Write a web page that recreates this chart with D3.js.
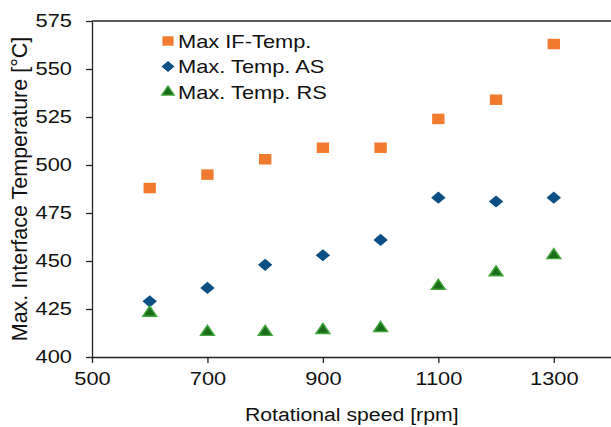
<!DOCTYPE html>
<html><head><meta charset="utf-8">
<script src="https://cdn.jsdelivr.net/npm/d3@7"></script>
<style>body{margin:0;background:#fff}svg{display:block}</style>
</head><body><svg id="c" width="611" height="427" font-family="Liberation Sans, Arial, sans-serif"></svg>
<script>
const speeds = [600, 700, 800, 900, 1000, 1100, 1200, 1300];
const ifTemp = [488, 495, 503, 509, 509, 524, 534, 563];
const asTemp = [429, 436, 448, 453, 461, 483, 481, 483];
const rsTemp = [423, 413, 413, 414, 415, 437, 444, 453];
const xTicks = [500, 700, 900, 1100, 1300];
const yTicks = [400, 425, 450, 475, 500, 525, 550, 575];
const seriesNames = ["Max IF-Temp.", "Max. Temp. AS", "Max. Temp. RS"];
const FONT = "Liberation Sans, Arial, sans-serif";
const SX = 1.18; // horizontal stretch seen in the reference

const svg = d3.select("#c");
const x = d3.scaleLinear().domain([500, 1400]).range([92, 611.5]);
const y = d3.scaleLinear().domain([400, 575]).range([357, 21]);

function stretch(sel) {
  sel.each(function () {
    const l = this.getComputedTextLength();
    d3.select(this).attr("textLength", l * SX).attr("lengthAdjust", "spacingAndGlyphs");
  });
}

svg.append("line").attr("x1", x(500)).attr("x2", 611).attr("y1", y(575)).attr("y2", y(575)).attr("stroke", "#222").attr("stroke-width", 1.3);

const xAxis = svg.append("g").attr("transform", `translate(0,${y(400)})`)
  .call(d3.axisBottom(x).tickValues(xTicks).tickFormat(d3.format("d")).tickSize(6).tickSizeOuter(0).tickPadding(9));
const yAxis = svg.append("g").attr("transform", `translate(${x(500)},0)`)
  .call(d3.axisLeft(y).tickValues(yTicks).tickFormat(d3.format("d")).tickSize(6).tickSizeOuter(0).tickPadding(14));
[xAxis, yAxis].forEach(g => {
  g.attr("font-family", FONT).attr("font-size", 18.5);
  g.selectAll("path,line").attr("stroke", "#222").attr("stroke-width", 1.3);
  g.selectAll("text").attr("fill", "#111").call(stretch);
});
xAxis.selectAll("text").attr("dy", "0.72em");

svg.append("text").attr("x", x(950)).attr("y", 421).attr("text-anchor", "middle")
  .attr("font-size", 18).attr("fill", "#111").text("Rotational speed [rpm]").call(stretch);
svg.append("text").attr("transform", `translate(27,${y(487.5)}) rotate(-90)`).attr("text-anchor", "middle")
  .attr("font-size", 21.5).attr("fill", "#111").text("Max. Interface Temperature [°C]");

const sq = d3.symbol().type(d3.symbolSquare).size(110);
const dm = d3.symbol().type(d3.symbolDiamond2).size(95);
const tr = d3.symbol().type(d3.symbolTriangle).size(58);

function draw(vals, sym, fill, stroke) {
  svg.append("g").selectAll("path").data(speeds).join("path")
    .attr("transform", (d, i) => `translate(${x(d)},${y(vals[i])}) scale(${SX},1)`)
    .attr("d", sym).attr("fill", fill).attr("stroke", stroke).attr("stroke-width", stroke === "none" ? 0 : 1.4);
}
draw(ifTemp, sq, "#F07B2E", "none");
draw(asTemp, dm, "#0B4F84", "none");
draw(rsTemp, tr, "#1A6B1A", "#3FA53A");

const legSyms = [[sq, "#F07B2E", "none"], [dm, "#0B4F84", "none"], [tr, "#1A6B1A", "#3FA53A"]];
seriesNames.forEach((n, i) => {
  const yy = 41 + i * 25.5;
  const s = legSyms[i];
  svg.append("path").attr("transform", `translate(168,${yy}) scale(${SX * 0.9},0.9)`).attr("d", s[0])
    .attr("fill", s[1]).attr("stroke", s[2]).attr("stroke-width", s[2] === "none" ? 0 : 1.4);
  svg.append("text").attr("x", 178).attr("y", yy).attr("dy", "0.36em").attr("font-size", 18.5).attr("fill", "#111").text(n).call(stretch);
});
</script></body></html>
